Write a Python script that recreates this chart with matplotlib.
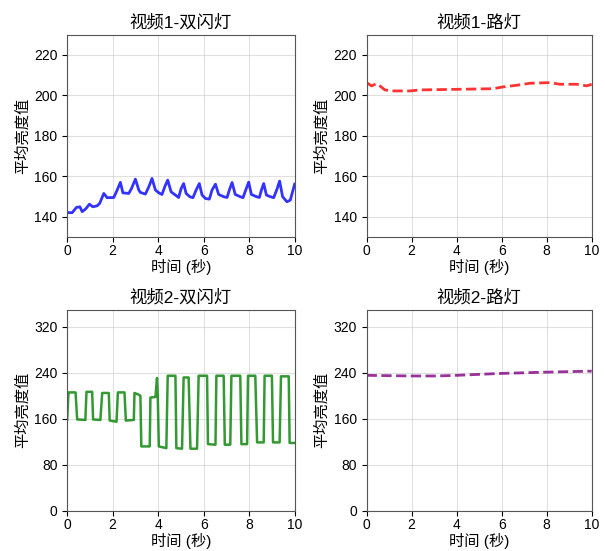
import numpy as np
import matplotlib
matplotlib.use('Agg')
import matplotlib.pyplot as plt

plt.rcParams['font.family'] = ['Liberation Sans', 'Noto Sans CJK SC', 'DejaVu Sans']
plt.rcParams['axes.unicode_minus'] = False

# video 1 - hazard lights (blue)
t_v1_flash = [0.0, 0.22, 0.41, 0.56, 0.66, 0.81, 0.98, 1.13, 1.32, 1.43, 1.61, 1.76, 2.05, 2.2, 2.34,
              2.45, 2.71, 2.83, 3.0, 3.15, 3.22, 3.44, 3.59, 3.73, 3.88, 4.03, 4.17, 4.29, 4.42, 4.57,
              4.76, 4.9, 5.01, 5.12, 5.23, 5.39, 5.53, 5.67, 5.81, 5.93, 6.08, 6.25, 6.37, 6.52, 6.66,
              6.88, 7.03, 7.13, 7.25, 7.39, 7.61, 7.73, 7.86, 7.98, 8.1, 8.32, 8.45, 8.54, 8.64, 8.76,
              8.93, 9.08, 9.22, 9.34, 9.47, 9.66, 9.81, 9.93, 10.0]
v1_flash = [142.0, 142.0, 144.6, 144.9, 142.5, 143.8, 146.2, 144.9, 145.4, 146.6, 151.5, 149.4, 149.5,
            153.2, 157.0, 151.8, 151.5, 154.0, 158.6, 153.2, 152.0, 151.2, 154.8, 158.9, 153.2, 151.8,
            151.0, 154.8, 158.1, 152.3, 150.7, 149.5, 153.9, 156.4, 151.5, 149.9, 149.4, 153.2, 156.4,
            150.7, 149.0, 148.7, 153.2, 156.1, 151.0, 149.9, 149.5, 153.2, 156.9, 151.0, 149.9, 149.4,
            153.5, 157.1, 151.0, 149.9, 149.5, 153.2, 156.4, 150.7, 149.9, 149.4, 153.5, 157.6, 149.9,
            147.4, 148.2, 153.2, 156.1]

# video 1 - street light (red)
t_v1_street = [0.0, 0.22, 0.44, 0.59, 0.81, 1.19, 1.93, 2.37, 4.0, 5.63, 6.07, 6.67, 7.26, 8.15, 8.59,
               9.33, 9.78, 10.0]
v1_street = [206.3, 204.7, 205.8, 204.7, 202.7, 202.2, 202.2, 202.7, 203.0, 203.3, 204.2, 205.0, 206.0,
             206.3, 205.5, 205.5, 204.7, 205.5]

# video 2 - hazard lights (green)
t_v2_flash = [0.0, 0.05, 0.07, 0.37, 0.44, 0.8, 0.85, 1.1, 1.14, 1.46, 1.54, 1.83, 1.87, 2.17, 2.23,
              2.52, 2.58, 2.93, 2.96, 3.15, 3.22, 3.26, 3.63, 3.66, 3.88, 3.95, 3.98, 4.03, 4.36, 4.42,
              4.76, 4.8, 5.05, 5.12, 5.34, 5.42, 5.71, 5.78, 6.15, 6.19, 6.52, 6.56, 6.88, 6.93, 7.17,
              7.22, 7.61, 7.66, 7.91, 7.95, 8.27, 8.35, 8.64, 8.68, 9.0, 9.05, 9.34, 9.4, 9.74, 9.78,
              10.0]
v2_flash = [158, 200, 206, 206, 159, 158, 207, 207, 159, 158, 205, 205, 157, 155, 206,
            206, 157, 158, 205, 202, 200, 112, 112, 197, 198, 231, 205, 112, 109, 235,
            235, 109, 108, 232, 232, 108, 108, 235, 235, 116, 115, 235, 235, 115, 115,
            235, 235, 116, 116, 235, 235, 119, 119, 235, 235, 119, 119, 234, 234, 118,
            118]

# video 2 - street light (purple)
t_v2_street = [0.0, 1.93, 3.1, 4.0, 5.93, 8.0, 10.0]
v2_street = [235.7, 234.6, 234.6, 235.7, 239.0, 241.3, 243.0]

fig = plt.figure(figsize=(6.05, 5.51), dpi=100)
ax1 = fig.add_axes([0.111, 0.570, 0.376, 0.367])
ax2 = fig.add_axes([0.606, 0.570, 0.372, 0.367])
ax3 = fig.add_axes([0.111, 0.073, 0.376, 0.365])
ax4 = fig.add_axes([0.606, 0.073, 0.372, 0.365])

ax1.plot(t_v1_flash, v1_flash, color='blue', alpha=0.8, lw=2)
ax2.plot(t_v1_street, v1_street, color='red', alpha=0.8, lw=2, ls='--')
ax3.plot(t_v2_flash, v2_flash, color='green', alpha=0.8, lw=1.8)
ax4.plot(t_v2_street, v2_street, color='purple', alpha=0.8, lw=2, ls='--')

titles = ['视频1-双闪灯', '视频1-路灯', '视频2-双闪灯', '视频2-路灯']
for ax, title in zip([ax1, ax2, ax3, ax4], titles):
    ax.set_title(title, fontsize=12.5, pad=5)
    ax.set_xlabel('时间 (秒)', fontsize=11, labelpad=1)
    ax.set_ylabel('平均亮度值', fontsize=11, labelpad=3)
    ax.set_xlim(0, 10)
    ax.set_xticks([0, 2, 4, 6, 8, 10])
    ax.grid(True, color='#cccccc', alpha=0.6, lw=0.8)
    ax.tick_params(labelsize=10)
    ax.tick_params(axis='x', pad=1.5)
    for s in ax.spines.values():
        s.set_color('#555555')

for ax in [ax1, ax2]:
    ax.set_ylim(130, 230)
    ax.set_yticks([140, 160, 180, 200, 220])
for ax in [ax3, ax4]:
    ax.set_ylim(0, 350)
    ax.set_yticks([0, 80, 160, 240, 320])

fig.savefig('out.png', dpi=100)
